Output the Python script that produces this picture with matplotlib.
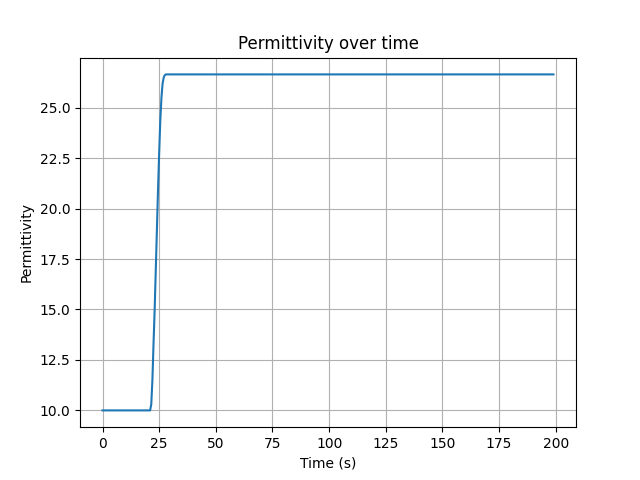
import matplotlib
matplotlib.use('Agg')
import matplotlib.pyplot as plt

time = [0, 21.0, 21.5, 22.0, 22.5, 23.0, 23.5, 24.0, 24.5, 25.0, 25.5, 26.0, 26.5, 27.0, 27.5, 28.0, 199]
permittivity = [10.0, 10.0, 10.3, 11.5, 13.3, 15.0, 17.0, 19.0, 21.0, 22.8, 24.4, 25.5, 26.2, 26.5, 26.62, 26.65, 26.65]

fig, ax = plt.subplots(figsize=(6.4, 4.8), dpi=100)
ax.plot(time, permittivity)
ax.set_title('Permittivity over time')
ax.set_xlabel('Time (s)')
ax.set_ylabel('Permittivity')
ax.grid(True)
fig.savefig('out.png')
